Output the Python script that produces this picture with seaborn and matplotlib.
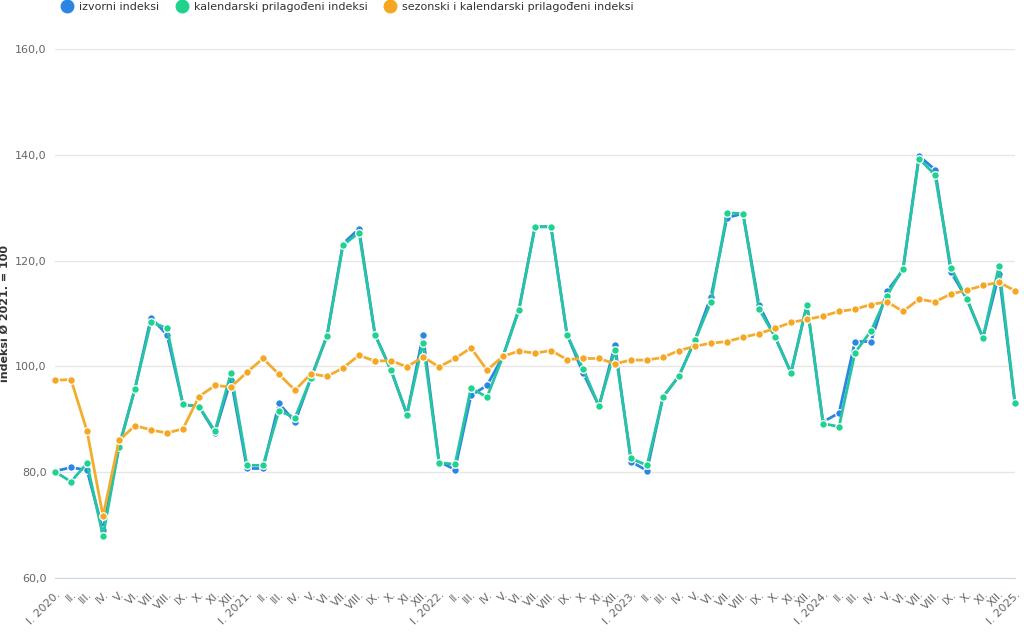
import matplotlib
matplotlib.use("Agg")
import matplotlib.pyplot as plt
from matplotlib.lines import Line2D
import pandas as pd
import seaborn as sns

# Monthly indices, I. 2020 - I. 2025
years = [2020, 2021, 2022, 2023, 2024, 2025]
roman_months = ["I", "II", "III", "IV", "V", "VI", "VII", "VIII", "IX", "X", "XI", "XII"]

izvorni = [
    80.2, 80.9, 80.4, 69.0, 84.9, 95.8, 109.2, 106.0, 92.8, 92.4, 87.5, 97.5,
    80.7, 80.7, 93.0, 89.5, 97.8, 105.8, 123.2, 126.0, 106.0, 99.3, 90.9, 105.9,
    82.0, 80.5, 94.5, 96.4, 101.9, 110.9, 126.4, 126.4, 106.0, 98.8, 92.5, 104.0,
    82.0, 80.3, 94.2, 98.2, 105.0, 113.2, 128.1, 128.9, 111.6, 105.6, 98.8, 111.7,
    89.5, 91.2, 104.7, 104.7, 114.2, 118.2, 139.8, 137.2, 117.8, 112.7, 105.4, 117.4,
    93.0,
]
kalendarski = [
    80.1, 78.2, 81.7, 67.9, 84.7, 95.8, 108.4, 107.2, 92.8, 92.4, 87.8, 98.8,
    81.3, 81.3, 91.6, 90.3, 97.8, 105.7, 122.9, 125.3, 106.0, 99.3, 90.9, 104.5,
    81.8, 81.5, 95.9, 94.2, 101.9, 110.6, 126.4, 126.4, 106.0, 99.6, 92.5, 103.1,
    82.6, 81.3, 94.2, 98.2, 104.9, 112.2, 129.0, 128.9, 110.8, 105.6, 98.8, 111.7,
    89.2, 88.6, 102.6, 106.7, 113.4, 118.5, 139.3, 136.2, 118.6, 112.7, 105.4, 119.0,
    93.0,
]
sezonski = [
    97.4, 97.5, 87.8, 71.7, 86.0, 88.8, 88.0, 87.4, 88.2, 94.3, 96.4, 96.1,
    98.9, 101.5, 98.5, 95.5, 98.6, 98.1, 99.7, 102.1, 101.0, 101.1, 99.9, 101.8,
    99.9, 101.5, 103.5, 99.3, 101.9, 102.9, 102.5, 103.0, 101.3, 101.5, 101.5, 100.5,
    101.2, 101.2, 101.7, 103.0, 103.8, 104.4, 104.7, 105.5, 106.2, 107.2, 108.3, 108.9,
    109.5, 110.4, 110.8, 111.7, 112.2, 110.4, 112.7, 112.2, 113.7, 114.4, 115.3, 115.9,
    114.3,
]

# Tick labels: "I. 2020.", "II.", ..., "I. 2025."
labels = []
for y in years:
    for m in roman_months:
        if len(labels) == len(izvorni):
            break
        labels.append(f"I. {y}." if m == "I" else f"{m}.")

df = pd.DataFrame({
    "idx": range(len(izvorni)),
    "izvorni indeksi": izvorni,
    "kalendarski prilagođeni indeksi": kalendarski,
    "sezonski i kalendarski prilagođeni indeksi": sezonski,
})

sns.set_style("white")
plt.rcParams["font.family"] = ["DejaVu Sans"]

fig = plt.figure(figsize=(10.24, 6.36), dpi=100)
ax = fig.add_axes([55 / 1024, 1 - 578 / 636, 960 / 1024, 529 / 636])

series = [
    ("izvorni indeksi", "#2b86e3", "#2b86e3"),
    ("kalendarski prilagođeni indeksi", "#26c4a2", "#1fd38f"),
    ("sezonski i kalendarski prilagođeni indeksi", "#f2ad2e", "#f5a623"),
]
for name, line_col, marker_col in series:
    sns.lineplot(
        data=df, x="idx", y=name, ax=ax, color=line_col, linewidth=2.0,
        marker="o", markersize=5.5, markerfacecolor=marker_col,
        markeredgecolor="white", markeredgewidth=0.9, label=name, clip_on=False,
    )

ax.set_xlim(0, len(izvorni) - 1)
ax.set_ylim(60, 160)
ax.set_yticks([60, 80, 100, 120, 140, 160])
ax.set_yticklabels([f"{v},0" for v in [60, 80, 100, 120, 140, 160]], color="#666666", fontsize=8)
ax.yaxis.grid(True, color="#e6e6e6", linewidth=1)
ax.tick_params(axis="y", length=0, pad=6)

ax.set_xticks(range(len(labels)))
ax.set_xticklabels(labels, rotation=45, ha="right", rotation_mode="anchor", color="#666666", fontsize=8)
ax.tick_params(axis="x", length=5, color="#ccd6eb", pad=3)

for side in ["top", "right", "left"]:
    ax.spines[side].set_visible(False)
ax.spines["bottom"].set_color("#ccd6eb")

ax.set_xlabel("")
ax.set_ylabel("indeksi Ø 2021. = 100", fontsize=8, fontweight="bold", color="#333333")
ax.yaxis.set_label_coords(-0.047, 0.5)

ax.legend_.remove()
handles, leg_labels = ax.get_legend_handles_labels()
leg_handles = [
    Line2D([], [], linestyle="none", marker="o", markersize=9, markerfacecolor=c, markeredgecolor=c)
    for _, _, c in series
]
fig.legend(leg_handles, leg_labels, loc="upper left", bbox_to_anchor=(0.045, 1.012), ncol=3,
           frameon=False, fontsize=8, labelcolor="#333333", handletextpad=0.1, columnspacing=1.0)

fig.savefig("out.png", dpi=100, facecolor="white")
